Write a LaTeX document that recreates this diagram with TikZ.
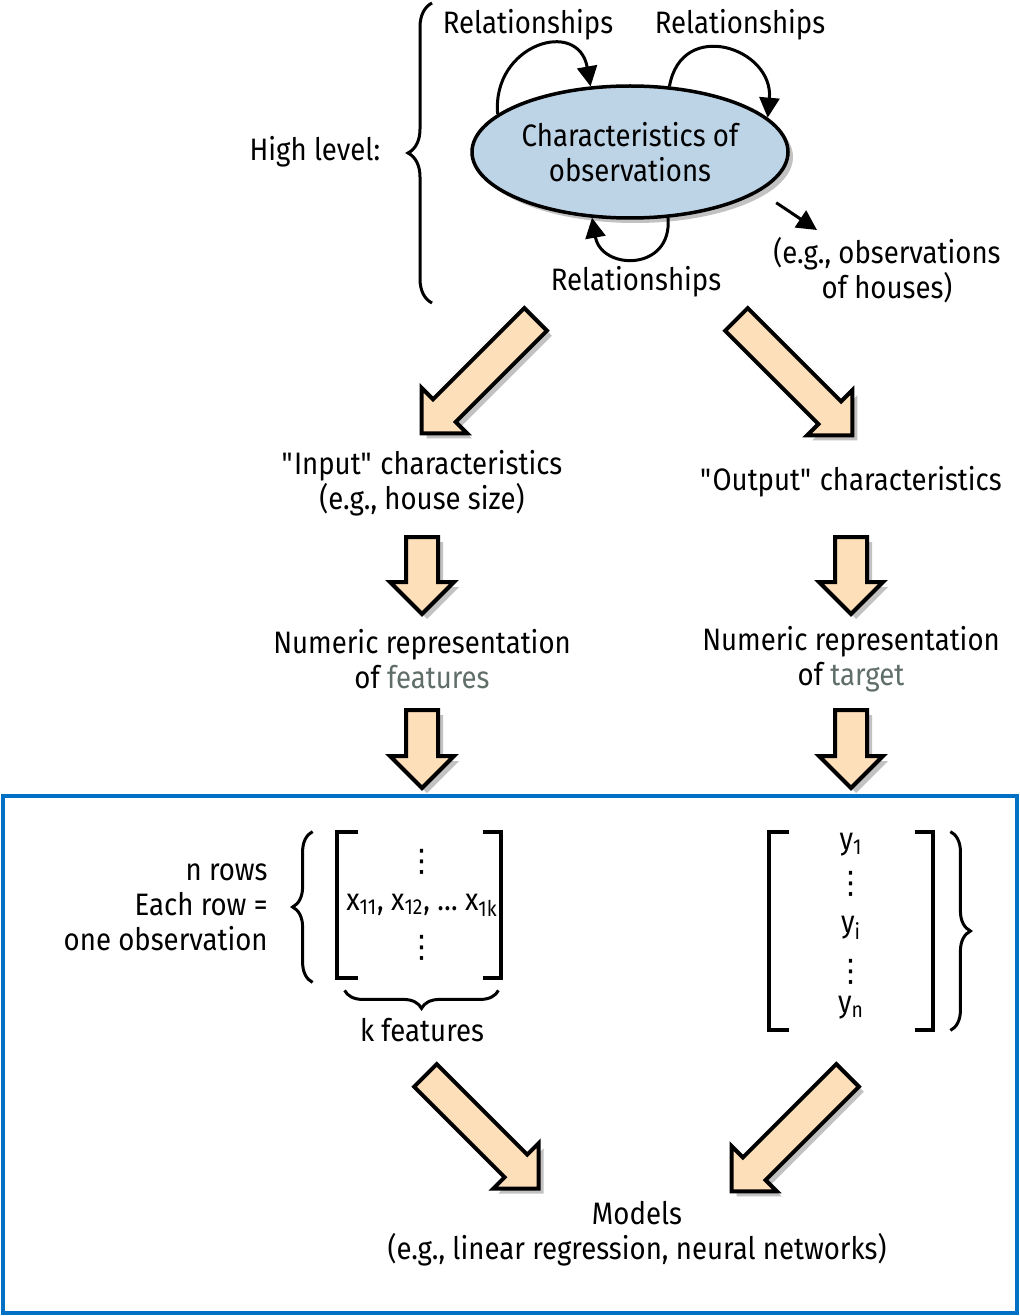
\documentclass[tikz,border=0pt]{standalone}
\usepackage{fontspec}
\setmainfont[FakeStretch=0.89]{Fira Sans}
\newfontfamily\dotsfont{DejaVu Sans}
\usetikzlibrary{shapes,arrows.meta,positioning,shadows,decorations.pathreplacing,calc}
\definecolor{ovalblue}{RGB}{189,211,230}
\definecolor{arrowpeach}{RGB}{253,223,186}
\definecolor{frameblue}{RGB}{0,113,197}
\definecolor{notegray}{RGB}{96,110,104}
\newcommand{\pxu}{0.5pt}
\newcommand{\vdotsglyph}{{\dotsfont ⋮}}

\begin{document}
\begin{tikzpicture}[x=0.5pt, y=0.5pt,
    every node/.style={font=\fontsize{15.5}{17.5}\selectfont},
    label/.style={align=center, inner sep=0pt},
    oval/.style={ellipse, draw=black, line width=1.75pt, fill=ovalblue, minimum width=316*\pxu, minimum height=132*\pxu, align=center, inner sep=0pt, drop shadow={shadow xshift=2.5pt, shadow yshift=-2.5pt, opacity=0.4, fill=black!60}},
    fatarrow/.style={single arrow, draw=black, line width=2pt, fill=arrowpeach, inner sep=0pt, inner ysep=7pt, single arrow head extend=8pt, anchor=tail, drop shadow={shadow xshift=2.5pt, shadow yshift=-2.5pt, opacity=0.4, fill=black!60}},
    relarrow/.style={-{Triangle[length=10pt,width=10pt]}, line width=1.5pt},
    bracket/.style={line width=2pt},
    curly/.style={decorate, decoration={brace, amplitude=#1}, line width=1.5pt},
    matbox/.style={inner sep=0pt},
    frame/.style={draw=frameblue, line width=2pt}
]
\useasboundingbox (0,0) rectangle (1020,-1316);

% High level view
\node[oval] (obs) at (630,-152) {Characteristics of\\observations};
\node[label] (relleft) at (528,-25) {Relationships};
\node[label] (relright) at (740,-25) {Relationships};
\node[label] (relbottom) at (636,-282) {Relationships};
\node[label] (highlevel) at (315,-152) {High level:};
\node[label] (example) at (887,-270) {(e.g., observations\\of houses)};
\coordinate (exampletip) at (817,-230);

\draw[curly=12pt] (432,-303) -- (432,-3);
\draw[relarrow] (obs.164) to[out=95, in=100, distance=35pt] (obs.121);
\draw[relarrow] (obs.59) to[out=80, in=85, distance=35pt] (obs.14);
\draw[relarrow] (obs.-60) to[out=-85, in=-80, distance=27pt] (obs.-120);
\draw[relarrow, shorten <=10pt] (obs.-17) -- (exampletip);

% Split into input and output
\node[fatarrow, rotate=-135, minimum height=161*\pxu] (splitin) at (537,-318) {};
\node[fatarrow, rotate=-45, minimum height=164*\pxu] (splitout) at (735,-318) {};
\node[label] (inputchar) at (422,-483) {\textquotedbl Input\textquotedbl{} characteristics\\(e.g., house size)};
\node[label] (outputchar) at (851,-482) {\textquotedbl Output\textquotedbl{} characteristics};

\node[fatarrow, rotate=-90, minimum height=77*\pxu] (downin) at (422,-535) {};
\node[fatarrow, rotate=-90, minimum height=77*\pxu] (downout) at (851,-535) {};
\node[label] (numfeat) at (422,-659) {Numeric representation\\of \textcolor{notegray}{features}};
\node[label] (numtarget) at (851,-659) {Numeric representation\\of \textcolor{notegray}{target}};

\node[fatarrow, rotate=-90, minimum height=78*\pxu] (featin) at (422,-708) {};
\node[fatarrow, rotate=-90, minimum height=78*\pxu] (targin) at (851,-708) {};

% Data panel
\draw[frame] (3,-796) rectangle (1017,-1313);

\node[matbox, minimum width=164*\pxu, minimum height=146*\pxu] (xmat) at (419,-905) {};
\draw[bracket] ([shift={(21,0)}]xmat.north west) -| (xmat.south west) -- +(21,0);
\draw[bracket] ([shift={(-18,0)}]xmat.north east) -| (xmat.south east) -- +(-18,0);
\node[label] (xdotsup) at (422,-862) {\vdotsglyph};
\node[label] (xrow) at (422,-905) {x\textsubscript{11}, x\textsubscript{12}, … x\textsubscript{1k}};
\node[label] (xdotsdown) at (422,-948) {\vdotsglyph};
\node[label, align=right, anchor=east] (nrows) at (268,-907) {n rows\\Each row =\\one observation};
\draw[curly=10pt] ([shift={(-24,-4)}]xmat.south west) -- ([shift={(-24,0)}]xmat.north west);
\draw[curly=9pt] ([shift={(-3,-12)}]xmat.south east) -- ([shift={(8,-12)}]xmat.south west);
\node[label] (kfeat) at (422,-1030) {k features};

\node[matbox, minimum width=164*\pxu, minimum height=198*\pxu] (ymat) at (851,-931) {};
\draw[bracket] ([shift={(20,0)}]ymat.north west) -| (ymat.south west) -- +(20,0);
\draw[bracket] ([shift={(-18,0)}]ymat.north east) -| (ymat.south east) -- +(-18,0);
\node[label] (yfirst) at (851,-845) {y\textsubscript{1}};
\node[label] (ydotsup) at (851,-884) {\vdotsglyph};
\node[label] (ymid) at (851,-928) {y\textsubscript{i}};
\node[label] (ydotsdown) at (851,-972) {\vdotsglyph};
\node[label] (ylast) at (851,-1008) {y\textsubscript{n}};
\draw[curly=10pt] ([shift={(17,0)}]ymat.north east) -- ([shift={(17,0)}]ymat.south east);

% Models
\node[fatarrow, rotate=-45, minimum height=160*\pxu] (tomodelx) at (424,-1074) {};
\node[fatarrow, rotate=-135, minimum height=164*\pxu] (tomodely) at (849,-1074) {};
\node[label] (models) at (637,-1234) {Models\\(e.g., linear regression, neural networks)};

\end{tikzpicture}
\end{document}
